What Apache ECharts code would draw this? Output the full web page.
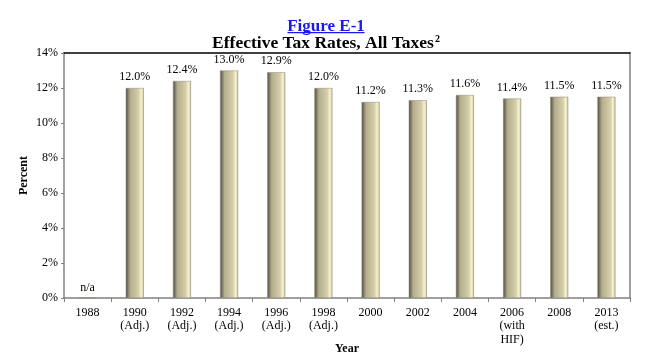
<!DOCTYPE html>
<html><head><meta charset="utf-8">
<script src="https://cdn.jsdelivr.net/npm/echarts@6/dist/echarts.min.js"></script>
<style>html,body{margin:0;padding:0;background:#fff}#c{width:652px;height:363px}</style>
</head><body><div id="c"></div>
<script>
var categories = ['1988','1990\n(Adj.)','1992\n(Adj.)','1994\n(Adj.)','1996\n(Adj.)','1998\n(Adj.)','2000','2002','2004','2006\n(with\nHIF)','2008','2013\n(est.)'];
var rates = [null, 12.0, 12.4, 13.0, 12.9, 12.0, 11.2, 11.3, 11.6, 11.4, 11.5, 11.5];
var yTicks = [0, 2, 4, 6, 8, 10, 12, 14];

var serif = '"Liberation Serif", "DejaVu Serif", serif';
var barColor = new echarts.graphic.LinearGradient(0, 0, 1, 0, [
  {offset: 0, color: '#4e4d44'},
  {offset: 0.1, color: '#77735f'},
  {offset: 0.25, color: '#b5ae8e'},
  {offset: 0.5, color: '#c6bf9c'},
  {offset: 0.72, color: '#d6cfab'},
  {offset: 0.85, color: '#f6f1cc'},
  {offset: 0.94, color: '#e4deb8'},
  {offset: 1, color: '#9a998e'}
]);
var data = rates.map(function (v) {
  if (v === null) {
    return {value: 0, label: {show: true, formatter: 'n/a', distance: 4}};
  }
  return {value: v};
});

var chart = echarts.init(document.getElementById('c'), null, {renderer: 'canvas'});
chart.setOption({
  animation: false,
  backgroundColor: '#fff',
  title: [{
    text: 'Figure E-1',
    left: 'center', top: 13,
    textStyle: {fontFamily: serif, fontSize: 17, fontWeight: 'bold', color: '#1a1aee'}
  }, {
    text: '{m|Effective Tax Rates, All Taxes}{s|2}',
    left: 'center', top: 29,
    textStyle: {
      rich: {
        m: {fontFamily: serif, fontSize: 17.5, fontWeight: 'bold', color: '#000'},
        s: {fontFamily: serif, fontSize: 10, fontWeight: 'bold', color: '#000', verticalAlign: 'top', padding: [0, 0, 9, 1]}
      }
    }
  }],
  graphic: [{
    type: 'rect',
    left: 'center',
    top: 32,
    shape: {width: 77, height: 1.3},
    style: {fill: '#1a1aee'}
  }],
  grid: {left: 64, right: 22, top: 53, bottom: 65},
  xAxis: [{
    type: 'category',
    data: categories,
    name: 'Year',
    nameLocation: 'middle',
    nameGap: 45,
    nameMoveOverlap: false,
    nameTextStyle: {fontFamily: serif, fontSize: 12, fontWeight: 'bold', color: '#000'},
    axisLine: {onZero: false, lineStyle: {color: '#808080', width: 1.5}},
    axisTick: {show: true, alignWithLabel: false, length: 4, lineStyle: {color: '#808080'}},
    axisLabel: {fontFamily: serif, fontSize: 12, color: '#000', margin: 8, lineHeight: 13.5, interval: 0}
  }, {
    type: 'category',
    position: 'top',
    data: categories,
    axisLine: {onZero: false, lineStyle: {color: '#000', width: 1.5}},
    axisTick: {show: false},
    axisLabel: {show: false}
  }],
  yAxis: [{
    type: 'value',
    min: yTicks[0], max: yTicks[yTicks.length - 1], interval: 2,
    name: 'Percent',
    nameLocation: 'middle',
    nameGap: 34,
    nameRotate: 90,
    nameMoveOverlap: false,
    nameTextStyle: {fontFamily: serif, fontSize: 12, fontWeight: 'bold', color: '#000'},
    axisLine: {show: true, onZero: false, lineStyle: {color: '#808080', width: 1.5}},
    axisTick: {show: true, length: 3, lineStyle: {color: '#808080'}},
    splitLine: {show: false},
    axisLabel: {fontFamily: serif, fontSize: 12, color: '#000', margin: 6, formatter: '{value}%'}
  }, {
    type: 'value',
    position: 'right',
    min: yTicks[0], max: yTicks[yTicks.length - 1], interval: 2,
    axisLine: {show: true, onZero: false, lineStyle: {color: '#808080', width: 1.5}},
    axisTick: {show: false},
    axisLabel: {show: false},
    splitLine: {show: false}
  }],
  series: [{
    type: 'bar',
    data: data,
    barWidth: 18,
    itemStyle: {color: barColor, borderColor: '#8d8b7a', borderWidth: 0.5},
    label: {
      show: true, position: 'top', distance: 5,
      fontFamily: serif, fontSize: 12, color: '#000',
      formatter: function (p) { return p.value.toFixed(1) + '%'; }
    }
  }]
});
</script></body></html>
